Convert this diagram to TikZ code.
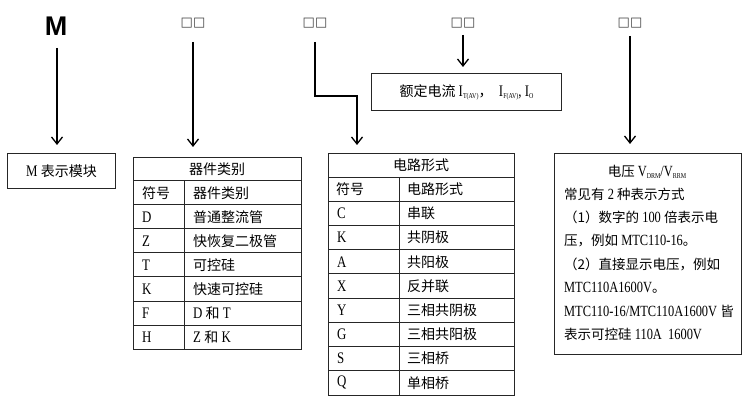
\documentclass[tikz,border=0pt]{standalone}
\usepackage{fontspec}
\setmainfont[FakeStretch=0.8,Scale=1.15]{Liberation Serif}
\newfontfamily\cjk{Noto Sans CJK SC}
\newfontfamily\hsans{Liberation Sans}
\newfontfamily\dvs{DejaVu Sans}
\usetikzlibrary{arrows.meta}
\newcommand\zh[1]{{\cjk #1}}
\newcommand\lowtxt[1]{\raisebox{-0.25ex}{\fontsize{6.5}{8}\selectfont #1}}
\begin{document}
\begin{tikzpicture}[x=1pt,y=-1pt,
  every node/.style={inner sep=0pt, font=\fontsize{14}{16}\selectfont},
  arr/.style={line width=1.3pt, -{Straight Barb[length=7pt,width=11pt,line width=1.3pt]}},
  box/.style={draw=black!85, line width=1pt, anchor=north west},
  grid/.style={draw=black!85, line width=1pt},
  sq/.style={font=\dvs\fontsize{13}{14}\selectfont, text=black!75},
  txt/.style={font=\fontsize{13.5}{15}\selectfont, anchor=west}]
\useasboundingbox (0,0) rectangle (750,414);

% header labels
\node[font=\hsans\bfseries\fontsize{27}{30}\selectfont] (mh) at (56,26) {M};
\node[sq] (q1) at (193,23) {□□};
\node[sq] (q2) at (315,23) {□□};
\node[sq] (q3) at (463,23) {□□};
\node[sq] (q4) at (630,23) {□□};

% box 1
\node[box, minimum width=108, minimum height=35] (b1) at (7,153) {M \zh{表示模块}};

% table 1
\node[box, minimum width=168, minimum height=192] (t1) at (133,157) {};
\foreach \i in {1,...,7} \draw[grid] (133,{157+24*\i}) -- (301,{157+24*\i});
\draw[grid] (184,181) -- (184,349);
\node (t1h) at (217,169) {\zh{器件类别}};
\node[anchor=west] (t1s1) at (142,193) {\zh{符号}};
\node[anchor=west] (t1n1) at (193,193) {\zh{器件类别}};
\foreach \s/\t [count=\i from 2] in {D/\zh{普通整流管}, Z/\zh{快恢复二极管}, T/\zh{可控硅}, K/\zh{快速可控硅}, F/{D \zh{和} T}, H/{Z \zh{和} K}} {
  \node[anchor=west] (t1s\i) at (142,{169+24*\i}) {\s};
  \node[anchor=west] (t1n\i) at (193,{169+24*\i}) {\t};
}

% table 2
\node[box, minimum width=186, minimum height=242] (t2) at (328,153) {};
\foreach \i in {1,...,9} \draw[grid] (328,{153+24.2*\i}) -- (514,{153+24.2*\i});
\draw[grid] (399,177.2) -- (399,395);
\node (t2h) at (421,165) {\zh{电路形式}};
\node[anchor=west] (t2s1) at (336,189.3) {\zh{符号}};
\node[anchor=west] (t2n1) at (407,189.3) {\zh{电路形式}};
\foreach \s/\t [count=\i from 2] in {C/串联, K/共阴极, A/共阳极, X/反并联, Y/三相共阴极, G/三相共阳极, S/三相桥, Q/单相桥} {
  \node[anchor=west] (t2s\i) at (337,{165.1+24.2*\i}) {\s};
  \node[anchor=west] (t2n\i) at (407,{165.1+24.2*\i}) {\zh{\t}};
}

% box 4
\node[box, minimum width=190, minimum height=37] (b4) at (371,73) {\zh{额定电流} I\lowtxt{T(AV)}\zh{，}\ \ I\lowtxt{F(AV)}, I\lowtxt{O}};

% box 5
\node[box, minimum width=187, minimum height=201] (b5) at (554,153) {};
\node[font=\fontsize{13.5}{15}\selectfont] (b5l1) at (647,172) {\zh{电压} V\lowtxt{DRM}/V\lowtxt{RRM}};
\node[txt] (b5l2) at (564,194) {\zh{常见有} 2 \zh{种表示方式}};
\node[txt] (b5l3) at (564,217) {\zh{（1）数字的} 100 \zh{倍表示电}};
\node[txt] (b5l4) at (564,241) {\zh{压，例如} MTC110-16\zh{。}};
\node[txt] (b5l5) at (564,264) {\zh{（2）直接显示电压，例如}};
\node[txt] (b5l6) at (564,288) {MTC110A1600V\zh{。}};
\node[txt] (b5l7) at (564,311) {MTC110-16/MTC110A1600V \zh{皆}};
\node[txt] (b5l8) at (564,334) {\zh{表示可控硅} 110A\ \ 1600V};

% arrows
\coordinate (a1) at (57,48);
\draw[arr, shorten >=8pt] (a1) -- (a1 |- b1.north);
\coordinate (a2) at (193,42);
\draw[arr, shorten >=10pt] (a2) -- (a2 |- t1.north);
\coordinate (a3) at (315,42);
\coordinate (k3) at (357,96);
\draw[arr, shorten >=8pt] (a3) |- (k3) -- (k3 |- t2.north);
\coordinate (a4) at (463,35);
\draw[arr, shorten >=6pt] (a4) -- (a4 |- b4.north);
\coordinate (a5) at (630,36);
\draw[arr, shorten >=9pt] (a5) -- (a5 |- b5.north);
\end{tikzpicture}
\end{document}
